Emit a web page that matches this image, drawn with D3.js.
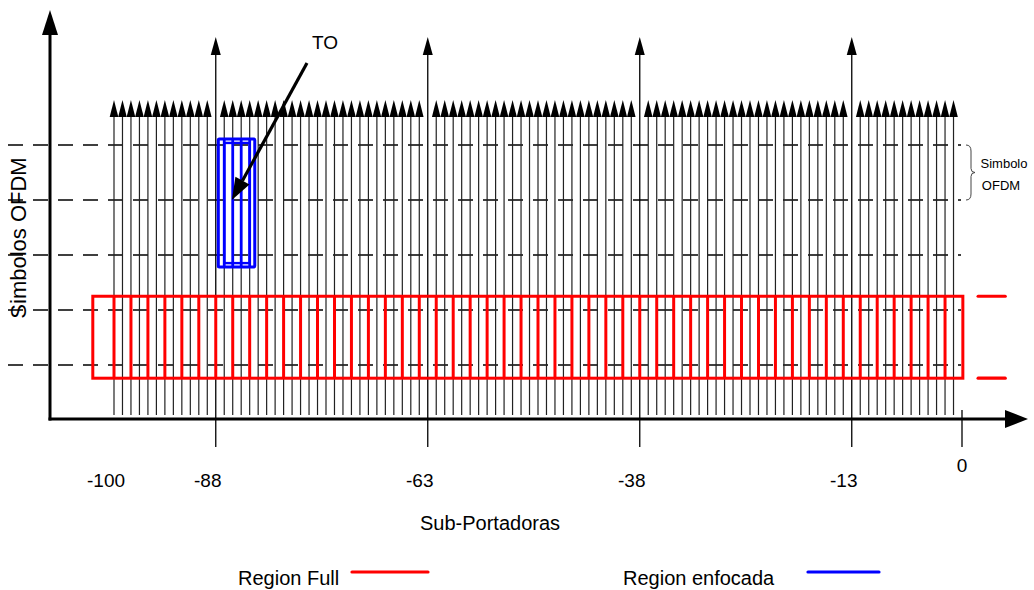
<!DOCTYPE html>
<html>
<head>
<meta charset="utf-8">
<script src="https://cdn.jsdelivr.net/npm/d3@7"></script>
<style>
    body { margin: 0; background: #fff; }
    svg { display: block; font-family: "Liberation Sans", Arial, sans-serif; }
</style>
</head>
<body>
<script>
'use strict';

/* globals d3 */

// Sub-carrier indices shown on the axis
var firstCarrier = -100;
var lastCarrier = -1;
var pilotCarriers = [-88, -63, -38, -13];
var tickLabels = [-100, -88, -63, -38, -13, 0];

// OFDM symbol rows (dashed lines)
var symbolRows = [0, 1, 2, 3, 4];
var bracketRows = [0, 1];

// Region Full: carriers marked every 2, spans rows 2.75 .. 4.24
var fullCarriers = [-100, -98, -96, -94, -92, -90, -88, -86, -84, -82, -80, -78, -76, -74, -72, -70, -68, -66, -64, -62,
    -60, -58, -56, -54, -52, -50, -48, -46, -44, -42, -40, -38, -36, -34, -32, -30, -28, -26, -24, -22,
    -20, -18, -16, -14, -12, -10, -8, -6, -4, -2];
var fullSpan = [-102.5, 0.1];
var fullExtension = [1.9, 5.1];
var fullRows = [2.75, 4.24];

// Region enfocada: four carriers, rows -0.11 .. 2.22
var focusCarriers = [-87, -86, -85, -84];
var focusSpan = [-87.7, -83.4];
var focusRows = [-0.11, 2.22];

// TO pointer: from label to carrier -86.1 on row 1
var toPointer = { carrier: -86.1, row: 1 };

var legendItems = [
    { name: 'Region Full', color: '#ff0000' },
    { name: 'Region enfocada', color: '#0000ff' }
];

var ofdmChart = {

    settings: {
        width: 1034,
        height: 590,
        axis_x: 50,
        axis_y: 419,
        font_size: 19
    },

    init: function () {
        var s = ofdmChart.settings;
        ofdmChart.svg = d3.select('body').append('svg')
            .attr('width', s.width).attr('height', s.height);

        ofdmChart.x = d3.scaleLinear().domain([firstCarrier, 0]).range([114, 962]);
        ofdmChart.y = d3.scaleLinear().domain([0, 4]).range([145, 365]);

        ofdmChart.drawSymbols();
        ofdmChart.drawCarriers();
        ofdmChart.drawRegions();
        ofdmChart.drawAxes();
        ofdmChart.drawLabels();
        ofdmChart.drawLegend();
    },

    tri: function (cx, top, base, half) {
        return 'M' + (cx - half) + ',' + base + 'L' + cx + ',' + top + 'L' + (cx + half) + ',' + base + 'Z';
    },

    drawSymbols: function () {
        var y = ofdmChart.y;
        ofdmChart.svg.append('g').selectAll('line').data(symbolRows).enter().append('line')
            .attr('x1', 8).attr('x2', 961)
            .attr('y1', function (d) { return y(d); })
            .attr('y2', function (d) { return y(d); })
            .attr('stroke', '#000').attr('stroke-width', 1.6)
            .attr('stroke-dasharray', '15,10');
    },

    drawCarriers: function () {
        var x = ofdmChart.x, g = ofdmChart.svg.append('g');
        var carriers = [];
        for (var c = firstCarrier; c <= lastCarrier; c++) {
            carriers.push(c);
        }
        var data = carriers.filter(function (c) { return pilotCarriers.indexOf(c) < 0; });

        g.selectAll('.sc').data(data).enter().append('line').attr('class', 'sc')
            .attr('x1', function (d) { return x(d); }).attr('x2', function (d) { return x(d); })
            .attr('y1', 116).attr('y2', 415)
            .attr('stroke', '#222').attr('stroke-width', 1.2);
        g.selectAll('.sch').data(data).enter().append('path').attr('class', 'sch')
            .attr('d', function (d) { return ofdmChart.tri(x(d), 100, 117, 4.3); })
            .attr('fill', '#000');

        g.selectAll('.pl').data(pilotCarriers).enter().append('line').attr('class', 'pl')
            .attr('x1', function (d) { return x(d); }).attr('x2', function (d) { return x(d); })
            .attr('y1', 54).attr('y2', 447)
            .attr('stroke', '#000').attr('stroke-width', 1.3);
        g.selectAll('.plh').data(pilotCarriers).enter().append('path').attr('class', 'plh')
            .attr('d', function (d) { return ofdmChart.tri(x(d), 37, 55, 5); })
            .attr('fill', '#000');

        // DC tick
        g.append('line')
            .attr('x1', x(0)).attr('x2', x(0)).attr('y1', 410).attr('y2', 447)
            .attr('stroke', '#000').attr('stroke-width', 1.3);
    },

    drawRegions: function () {
        var x = ofdmChart.x, y = ofdmChart.y;
        var red = '#ff0000', blue = '#0000ff';

        var gf = ofdmChart.svg.append('g');
        gf.append('rect')
            .attr('x', x(fullSpan[0])).attr('y', y(fullRows[0]))
            .attr('width', x(fullSpan[1]) - x(fullSpan[0]))
            .attr('height', y(fullRows[1]) - y(fullRows[0]))
            .attr('fill', 'none').attr('stroke', red).attr('stroke-width', 3);
        gf.selectAll('.fv').data(fullCarriers).enter().append('line').attr('class', 'fv')
            .attr('x1', function (d) { return x(d); }).attr('x2', function (d) { return x(d); })
            .attr('y1', y(fullRows[0])).attr('y2', y(fullRows[1]))
            .attr('stroke', red).attr('stroke-width', 3);
        gf.selectAll('.fe').data(fullRows).enter().append('line').attr('class', 'fe')
            .attr('x1', x(fullExtension[0])).attr('x2', x(fullExtension[1]))
            .attr('y1', function (d) { return y(d); }).attr('y2', function (d) { return y(d); })
            .attr('stroke', red).attr('stroke-width', 3.2).attr('stroke-linecap', 'round');

        var gb = ofdmChart.svg.append('g');
        gb.append('rect')
            .attr('x', x(focusSpan[0])).attr('y', y(focusRows[0]))
            .attr('width', x(focusSpan[1]) - x(focusSpan[0]))
            .attr('height', y(focusRows[1]) - y(focusRows[0]))
            .attr('rx', 1)
            .attr('fill', 'none').attr('stroke', blue).attr('stroke-width', 3);
        gb.append('rect')
            .attr('x', x(focusCarriers[0])).attr('y', y(focusRows[0]) + 4)
            .attr('width', x(focusCarriers[focusCarriers.length - 1]) - x(focusCarriers[0]))
            .attr('height', y(focusRows[1]) - y(focusRows[0]) - 8)
            .attr('fill', 'none').attr('stroke', blue).attr('stroke-width', 2.4);
        gb.selectAll('.bv').data(focusCarriers).enter().append('line').attr('class', 'bv')
            .attr('x1', function (d) { return x(d); }).attr('x2', function (d) { return x(d); })
            .attr('y1', y(focusRows[0])).attr('y2', y(focusRows[1]))
            .attr('stroke', blue).attr('stroke-width', 2.8);

        // TO pointer
        var tx = x(toPointer.carrier), ty = y(toPointer.row);
        var sx = 307, sy = 63;
        var ang = Math.atan2(ty - sy, tx - sx);
        var hl = 22, hw = 8;
        var bx = tx - hl * Math.cos(ang), by = ty - hl * Math.sin(ang);
        ofdmChart.svg.append('line')
            .attr('x1', sx).attr('y1', sy).attr('x2', bx).attr('y2', by)
            .attr('stroke', '#000').attr('stroke-width', 3.2);
        ofdmChart.svg.append('path')
            .attr('d', 'M' + tx + ',' + ty +
                'L' + (bx + hw * Math.sin(ang)) + ',' + (by - hw * Math.cos(ang)) +
                'L' + (bx - hw * Math.sin(ang)) + ',' + (by + hw * Math.cos(ang)) + 'Z')
            .attr('fill', '#000');
        ofdmChart.svg.append('text')
            .attr('x', 325).attr('y', 49).attr('text-anchor', 'middle')
            .attr('font-size', ofdmChart.settings.font_size).text('TO');
    },

    drawAxes: function () {
        var s = ofdmChart.settings, g = ofdmChart.svg.append('g');
        g.append('line')
            .attr('x1', s.axis_x).attr('x2', s.axis_x).attr('y1', 30).attr('y2', s.axis_y + 1.5)
            .attr('stroke', '#000').attr('stroke-width', 3);
        g.append('path').attr('d', 'M42,35L50,10L58,35Z').attr('fill', '#000');
        g.append('line')
            .attr('x1', s.axis_x - 1.5).attr('x2', 1010).attr('y1', s.axis_y).attr('y2', s.axis_y)
            .attr('stroke', '#000').attr('stroke-width', 3);
        g.append('path').attr('d', 'M1005,410L1028,419L1005,428Z').attr('fill', '#000');

        g.selectAll('.tl').data(tickLabels).enter().append('text').attr('class', 'tl')
            .attr('x', function (d) { return ofdmChart.x(d) + (d < 0 ? -8 : 0); })
            .attr('y', function (d) { return d < 0 ? 487 : 472; })
            .attr('text-anchor', 'middle')
            .attr('font-size', s.font_size)
            .text(function (d) { return d; });
    },

    drawLabels: function () {
        var s = ofdmChart.settings, y = ofdmChart.y;
        ofdmChart.svg.append('text')
            .attr('transform', 'translate(26,238) rotate(-90)')
            .attr('text-anchor', 'middle').attr('font-size', 22)
            .text('Simbolos OFDM');
        ofdmChart.svg.append('text')
            .attr('x', 490).attr('y', 530).attr('text-anchor', 'middle')
            .attr('font-size', 20).text('Sub-Portadoras');

        // bracket for one OFDM symbol
        var y0 = y(bracketRows[0]), y1 = y(bracketRows[1]), ym = (y0 + y1) / 2;
        ofdmChart.svg.append('path')
            .attr('d', 'M966,' + y0 + 'Q971,' + y0 + ' 971,' + (y0 + 6) + 'L971,' + (ym - 4) +
                'Q971,' + ym + ' 975,' + ym + 'Q971,' + ym + ' 971,' + (ym + 4) +
                'L971,' + (y1 - 6) + 'Q971,' + y1 + ' 966,' + y1)
            .attr('fill', 'none').attr('stroke', '#444').attr('stroke-width', 1);
        ofdmChart.svg.append('text')
            .attr('x', 1004).attr('y', ym - 5).attr('text-anchor', 'middle')
            .attr('font-size', 13).text('Simbolo');
        ofdmChart.svg.append('text')
            .attr('x', 1001).attr('y', ym + 17).attr('text-anchor', 'middle')
            .attr('font-size', 13).text('OFDM');
    },

    drawLegend: function () {
        var pos = [{ tx: 238, x1: 352, x2: 428 }, { tx: 623, x1: 808, x2: 879 }];
        var g = ofdmChart.svg.append('g').selectAll('g').data(legendItems).enter().append('g');
        g.append('text')
            .attr('x', function (d, i) { return pos[i].tx; }).attr('y', 585)
            .attr('font-size', 20)
            .text(function (d) { return d.name; });
        g.append('line')
            .attr('x1', function (d, i) { return pos[i].x1; })
            .attr('x2', function (d, i) { return pos[i].x2; })
            .attr('y1', 572).attr('y2', 572)
            .attr('stroke', function (d) { return d.color; })
            .attr('stroke-width', 3.2).attr('stroke-linecap', 'round');
    }
};

ofdmChart.init();
</script>
</body>
</html>
